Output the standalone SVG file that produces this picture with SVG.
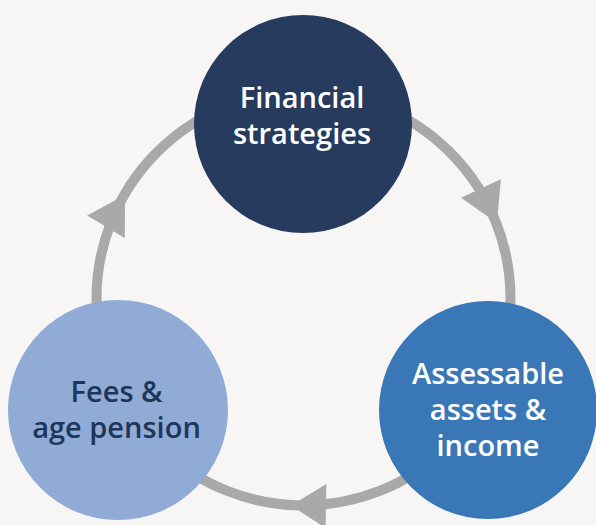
<svg xmlns="http://www.w3.org/2000/svg" width="596" height="525" viewBox="0 0 596 525">
<style>
.ring{fill:none;stroke:#aaa9a7;stroke-width:10}
.head{fill:#aaa9a7}
.lbl{font-family:"Open Sans","Noto Sans","Liberation Sans",sans-serif;font-weight:600;font-size:29px;text-anchor:middle}
.w{fill:#ffffff}
.d{fill:#1f365a}
</style>
<rect width="596" height="525" fill="#f7f6f4"/>
<g id="connectors">
<circle class="ring" cx="303.5" cy="298.5" r="207"/>
<polygon class="head" points="0,0 -37,-22 -37,22" transform="translate(125,195) rotate(-59)"/>
<polygon class="head" points="0,0 -38,-22 -38,22" transform="translate(497,223) rotate(65)"/>
<polygon class="head" points="0,0 -35,-22 -35,22" transform="translate(291,505.5) rotate(181)"/>
</g>
<g id="financial-strategies">
<circle cx="303" cy="124" r="109" fill="#263b5e"/>
<text class="lbl w" x="302" y="107.5">Financial</text>
<text class="lbl w" x="302" y="143.5">strategies</text>
</g>
<g id="assessable-assets-income">
<circle cx="488" cy="410" r="109" fill="#3a77b6"/>
<text class="lbl w" x="488" y="383.5">Assessable</text>
<text class="lbl w" x="488" y="420">assets &amp;</text>
<text class="lbl w" x="488" y="456">income</text>
</g>
<g id="fees-age-pension">
<circle cx="118" cy="410" r="110" fill="#8fabd6"/>
<text class="lbl d" x="116.5" y="401.5">Fees &amp;</text>
<text class="lbl d" x="116.5" y="437.5">age pension</text>
</g>
</svg>
